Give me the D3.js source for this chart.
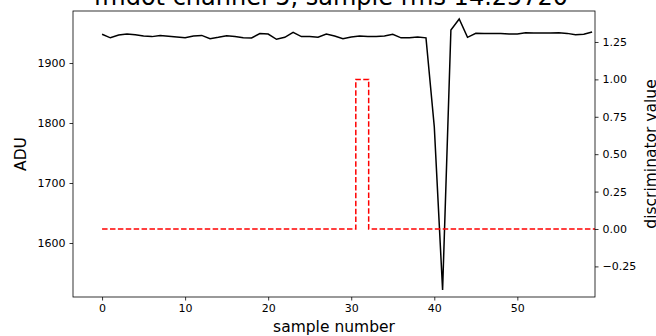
<!DOCTYPE html>
<html><head><meta charset="utf-8">
<script src="https://cdn.jsdelivr.net/npm/d3@7"></script>
<style>body{margin:0;background:#fff}svg{display:block}text{font-family:"DejaVu Sans",sans-serif;fill:#000}</style>
</head><body><div id="c"></div>
<script>
const title = "fmdot channel 5, sample rms 14.25720";
const adu = [1948,1942,1946.7,1948.3,1947,1945,1944,1946,1944.5,1943.3,
  1942,1945,1946,1940.5,1942.8,1945.6,1944,1942,1941.7,1949,
  1948.3,1939.5,1942.8,1951,1944,1944,1943,1948.3,1945,1940.5,
  1943.3,1945,1944,1944,1945,1947.8,1942,1942,1943.3,1942,
  1793.8,1521.7,1955,1973.3,1942.8,1949.4,1949,1949.4,1949.4,1948.3,
  1948.3,1950.5,1950,1950,1950,1950.5,1949.4,1947.2,1947.8,1951.7];
const discX = [0,30.55,30.55,32.1,32.1,59.35];
const discY = [0,0,1,1,0,0];
const xTicks = [0,10,20,30,40,50];
const leftTicks = [1600,1700,1800,1900];
const rightTicks = [-0.25,0,0.25,0.5,0.75,1.0,1.25];

const W=656,H=336, L=73,R=595,T=11,B=297;
const svg=d3.select("#c").append("svg").attr("width",W).attr("height",H);
const x=d3.scaleLinear().domain([-3.5,59.35]).range([L,R]);
const yL=d3.scaleLinear().domain([1510,1986.7]).range([B,T]);
const yR=d3.scaleLinear().domain([-0.4545,1.457]).range([B,T]);

svg.append("defs").append("clipPath").attr("id","clip").append("rect")
  .attr("x",L).attr("y",T).attr("width",R-L).attr("height",B-T);

const g=svg.append("g").attr("clip-path","url(#clip)");
g.append("path").datum(adu.map((v,i)=>[i,v]))
  .attr("d",d3.line().x(d=>x(d[0])).y(d=>yL(d[1])))
  .attr("fill","none").attr("stroke","#000").attr("stroke-width",1.5);
g.append("path").datum(discX.map((v,i)=>[v,discY[i]]))
  .attr("d",d3.line().x(d=>x(d[0])).y(d=>yR(d[1])))
  .attr("fill","none").attr("stroke","#ff0000").attr("stroke-width",1.5)
  .attr("stroke-dasharray","5.5,2.4");

function style(ax){
  ax.selectAll(".domain").remove();
  ax.selectAll("line").attr("stroke","#000").attr("stroke-width",0.8);
  ax.selectAll("text").attr("font-size","11px").attr("fill","#000").attr("font-family","DejaVu Sans");
}
const xa=svg.append("g").attr("transform",`translate(0,${B})`)
  .call(d3.axisBottom(x).tickValues(xTicks).tickSize(3.5).tickPadding(4).tickFormat(d3.format("d")));
style(xa);
const la=svg.append("g").attr("transform",`translate(${L},0)`)
  .call(d3.axisLeft(yL).tickValues(leftTicks).tickSize(3.5).tickPadding(4).tickFormat(d3.format("d")));
style(la);
const ra=svg.append("g").attr("transform",`translate(${R},0)`)
  .call(d3.axisRight(yR).tickValues(rightTicks).tickSize(3.5).tickPadding(4)
  .tickFormat(d=>d3.format(".2f")(d).replace("-","\u2212")));
style(ra);

svg.append("rect").attr("x",L).attr("y",T).attr("width",R-L).attr("height",B-T)
  .attr("fill","none").attr("stroke","#000").attr("stroke-width",0.8);

svg.append("text").attr("x",331).attr("y",5).attr("text-anchor","middle")
  .attr("font-size","24px").text(title);
svg.append("text").attr("x",(L+R)/2).attr("y",332).attr("text-anchor","middle")
  .attr("font-size","15.5px").text("sample number");
svg.append("text").attr("transform",`translate(26,${(T+B)/2}) rotate(-90)`).attr("text-anchor","middle")
  .attr("font-size","15.5px").text("ADU");
svg.append("text").attr("transform",`translate(656,${(T+B)/2}) rotate(-90)`).attr("text-anchor","middle")
  .attr("font-size","15.5px").text("discriminator value");
</script></body></html>
